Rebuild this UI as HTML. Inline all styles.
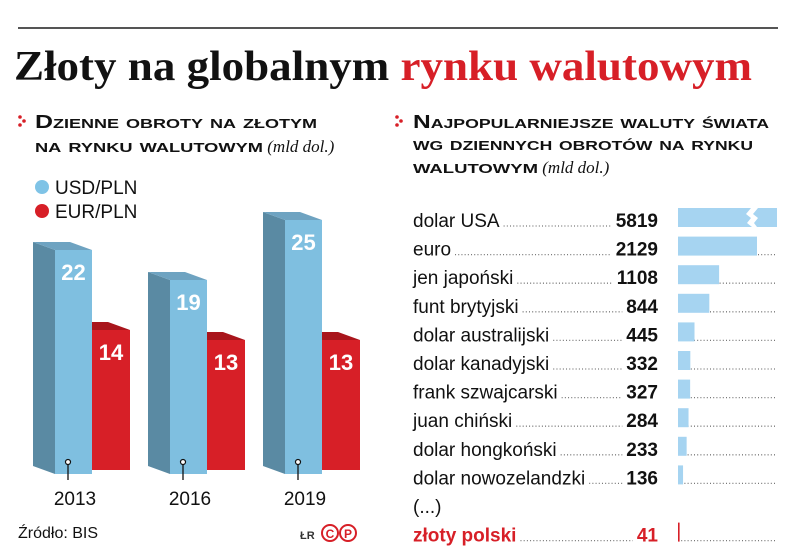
<!DOCTYPE html>
<html><head><meta charset="utf-8"><style>
html,body{margin:0;padding:0;background:#fff;}
svg{display:block;font-family:"Liberation Sans",sans-serif;}
</style></head><body>
<svg id="c" width="805" height="553" viewBox="0 0 805 553" xmlns="http://www.w3.org/2000/svg">
<line x1="18" y1="28" x2="778" y2="28" stroke="#555" stroke-width="2"/>
<text x="14" y="80" font-family="Liberation Serif,serif" font-weight="bold" font-size="42" textLength="738" lengthAdjust="spacingAndGlyphs"><tspan fill="#111">Złoty na globalnym </tspan><tspan fill="#d71f27">rynku walutowym</tspan></text>

<g>
<circle cx="20" cy="117" r="1.8" fill="#d71f27"/><circle cx="24" cy="121" r="1.8" fill="#d71f27"/><circle cx="20" cy="125" r="1.8" fill="#d71f27"/>
<text x="35" y="128" font-weight="bold" font-size="18" font-variant="small-caps" textLength="282" lengthAdjust="spacingAndGlyphs" fill="#111">Dzienne obroty na złotym</text>
<text x="35" y="152" font-weight="bold" font-size="18" font-variant="small-caps" fill="#111"><tspan textLength="228" lengthAdjust="spacingAndGlyphs">na rynku walutowym</tspan><tspan font-family="Liberation Serif,serif" font-style="italic" font-weight="normal" font-size="17" font-variant="normal"> (mld dol.)</tspan></text>
</g>
<g>
<circle cx="42" cy="187" r="7" fill="#7fc3e6"/>
<text x="55" y="194" font-size="19" fill="#111">USD/PLN</text>
<circle cx="42" cy="211" r="7" fill="#d71f27"/>
<text x="55" y="218" font-size="19" fill="#111">EUR/PLN</text>
</g>
<g id="bars"></g>
<text x="18" y="538" font-size="16" fill="#111">Źródło: BIS</text>
<text x="300" y="539" font-size="11" font-weight="bold" fill="#333">ŁR</text>
<g>
<circle cx="330" cy="533" r="8" fill="none" stroke="#d71f27" stroke-width="2"/><text x="330" y="538" text-anchor="middle" font-size="12" font-weight="bold" fill="#d71f27">C</text>
<circle cx="348" cy="533" r="8" fill="none" stroke="#d71f27" stroke-width="2"/><text x="348" y="538" text-anchor="middle" font-size="12" font-weight="bold" fill="#d71f27">P</text>
</g>

<g>
<circle cx="397" cy="117" r="1.8" fill="#d71f27"/><circle cx="401" cy="121" r="1.8" fill="#d71f27"/><circle cx="397" cy="125" r="1.8" fill="#d71f27"/>
<text x="413" y="128" font-weight="bold" font-size="18" font-variant="small-caps" textLength="356" lengthAdjust="spacingAndGlyphs" fill="#111">Najpopularniejsze waluty świata</text>
<text x="413" y="150" font-weight="bold" font-size="18" font-variant="small-caps" textLength="340" lengthAdjust="spacingAndGlyphs" fill="#111">wg dziennych obrotów na rynku</text>
<text x="413" y="173" font-weight="bold" font-size="18" font-variant="small-caps" fill="#111"><tspan textLength="125" lengthAdjust="spacingAndGlyphs">walutowym</tspan><tspan font-family="Liberation Serif,serif" font-style="italic" font-weight="normal" font-size="17" font-variant="normal"> (mld dol.)</tspan></text>
</g>
<g id="rank"></g>
</svg>
<script>
const NS="http://www.w3.org/2000/svg";
const years=["2013","2016","2019"];
const usd=[22,19,25];
const eur=[14,13,13];
const currencies=["dolar USA","euro","jen japoński","funt brytyjski","dolar australijski","dolar kanadyjski","frank szwajcarski","juan chiński","dolar hongkoński","dolar nowozelandzki"];
const turnover=[5819,2129,1108,844,445,332,327,284,233,136];
const zlotyName="złoty polski";
const zlotyValue=41;

function mk(tag,attrs,parent,txt){const e=document.createElementNS(NS,tag);for(const k in attrs)e.setAttribute(k,attrs[k]);if(txt!==undefined)e.textContent=txt;parent.appendChild(e);return e;}

// left 3D bars
const base=470, unit=10;
const yS=v=>base-v*unit;
const bg=document.getElementById('bars');
years.forEach((yr,i)=>{
  const x0=55+i*115, bw=37, rw=38, dx=-22, dy=-8;
  const g=mk('g',{},bg);
  
  
  // red bar
  const rt=yS(eur[i]), rx=x0+bw;
  const rtop=mk('polygon',{points:`${rx},${rt} ${rx+rw},${rt} ${rx+rw+dx},${rt+dy} ${rx+dx},${rt+dy}`,fill:'#a9151c'},g);
  
  
  const rf=mk('rect',{x:rx,y:rt,width:rw,height:base-rt,fill:'#d71f27'},g);
  
  
  // blue bar
  const bt=yS(usd[i]);
  const side=mk('polygon',{points:`${x0},${bt} ${x0+dx},${bt+dy} ${x0+dx},${base-4} ${x0},${base+4}`,fill:'#5a8aa3'},g);
  
  
  const top=mk('polygon',{points:`${x0},${bt} ${x0+bw},${bt} ${x0+bw+dx},${bt+dy} ${x0+dx},${bt+dy}`,fill:'#6ea3c1'},g);
  
  
  const bf=mk('rect',{x:x0,y:bt,width:bw,height:base-bt+4,fill:'#7fbfe0'},g);
  
  
  const lu=mk('text',{x:x0+bw/2,y:bt+30,'text-anchor':'middle','font-size':22,'font-weight':'bold',fill:'#fff'},g,usd[i]);
  
  
  const le=mk('text',{x:rx+rw/2,y:rt+30,'text-anchor':'middle','font-size':22,'font-weight':'bold',fill:'#fff'},g,eur[i]);
  
  
  mk('line',{x1:x0+13,y1:462,x2:x0+13,y2:480,stroke:'#111','stroke-width':1.3},g);
  mk('circle',{cx:x0+13,cy:462,r:2.5,fill:'#fff',stroke:'#111','stroke-width':1.2},g);
  const yl=mk('text',{x:x0+20,y:505,'text-anchor':'middle','font-size':19,fill:'#111'},g,yr);
  
  
});

// right ranking
const rg=document.getElementById('rank');
const bx=678, bunit=79/2129, rowY=i=>227+i*28.6, maxW=99;
function row(name,val,i,red){
  const y=rowY(i);
  const g=mk('g',{},rg);
  
  
  const t=mk('text',{x:413,y:y,'font-size':19,fill:red?'#d71f27':'#111','font-weight':red?'bold':'normal'},g,name);
  const v=mk('text',{x:658,y:y,'text-anchor':'end','font-size':19,'font-weight':'bold',fill:red?'#d71f27':'#111'},g,val);
  const nw=t.getComputedTextLength(), vw=v.getComputedTextLength();
  mk('line',{x1:413+nw+4,y1:y-1,x2:658-vw-4,y2:y-1,stroke:'#777','stroke-width':1.3,'stroke-dasharray':'1 2.2'},g);
  mk('line',{x1:bx,y1:y-1,x2:776,y2:y-1,stroke:'#777','stroke-width':1.3,'stroke-dasharray':'1 2.2'},g);
  const w=val*bunit;
  if(red){
    const b=mk('rect',{x:bx,y:y-19,width:Math.max(w,1.6),height:19,fill:'#d71f27'},g);
    
    
  } else if(w>maxW){
    const b=mk('rect',{x:bx,y:y-19,width:maxW,height:19,fill:'#a6d4f1'},g);
    
    
    mk('polygon',{points:`${bx+73},${y-19} ${bx+80},${y-19} ${bx+75},${y-13} ${bx+80},${y-9} ${bx+76},${y-4} ${bx+79},${y} ${bx+74},${y} ${bx+69},${y-4} ${bx+73},${y-9} ${bx+68},${y-13}`,fill:'#fff'},g);
  } else {
    const b=mk('rect',{x:bx,y:y-19,width:w,height:19,fill:'#a6d4f1'},g);
    
    
  }
}
currencies.forEach((n,i)=>row(n,turnover[i],i,false));
const el=mk('text',{x:413,y:rowY(10),'font-size':19,fill:'#111'},rg,'(...)');


row(zlotyName,zlotyValue,11,true);
</script>
</body></html>
